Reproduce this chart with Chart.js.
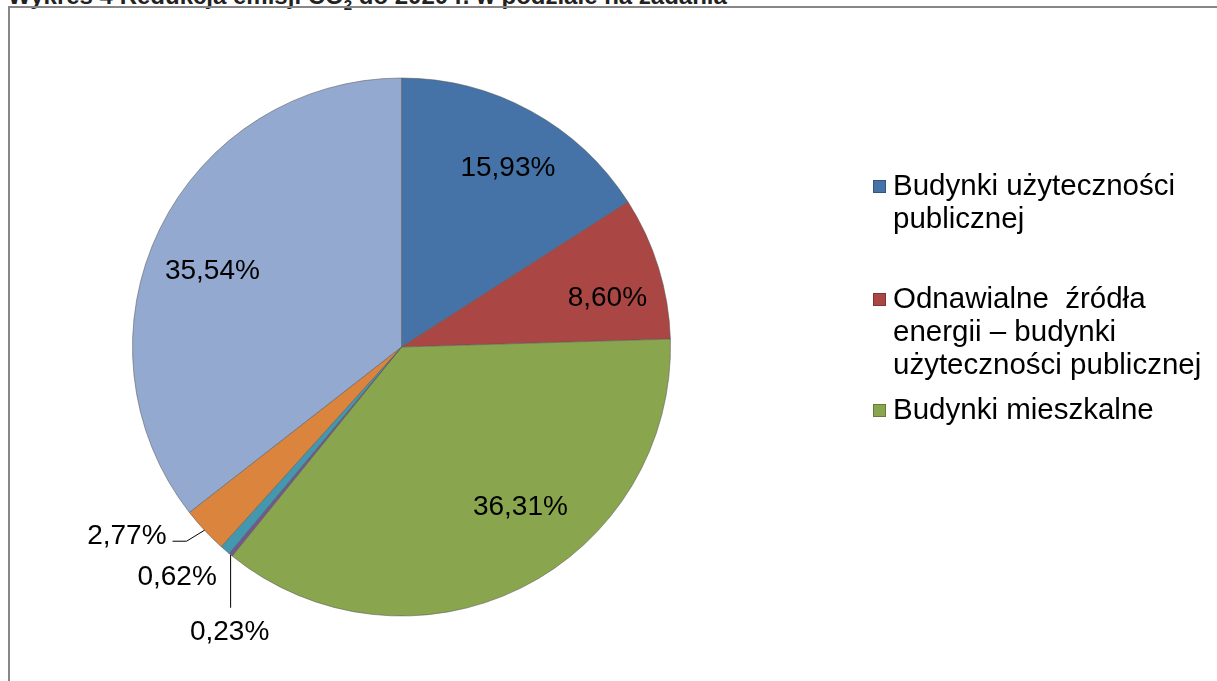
<!DOCTYPE html>
<html>
<head>
<meta charset="utf-8">
<script src="https://cdn.jsdelivr.net/npm/chart.js@4.4.0/dist/chart.umd.min.js"></script>
<style>
    html, body { margin: 0; padding: 0; background: #fff; overflow: hidden; }
    #wrap { position: relative; width: 1217px; height: 681px; }
    #title {
        position: absolute; left: 8px; top: -18px;
        font: bold 24px "Liberation Sans", Arial, sans-serif; color: #222;
        white-space: nowrap;
    }
    #frame {
        position: absolute; left: 8px; top: 6px; width: 1400px; height: 900px;
        border: 2px solid #878787; box-sizing: border-box;
    }
    #chart { position: absolute; left: 0; top: 0; }
</style>
</head>
<body>
<div id="wrap">
    <div id="title">Wykres 4 Redukcja emisji CO<sub style="font-size:15px">2</sub> do 2020 r. w podziale na zadania</div>
    <div id="frame"></div>
    <canvas id="chart" width="1217" height="681"></canvas>
</div>
<script>
// slices, clockwise from 12 o'clock
const categories = [
    ["Budynki użyteczności", "publicznej"],
    ["Odnawialne  źródła", "energii – budynki", "użyteczności publicznej"],
    ["Budynki mieszkalne"],
    ["Oświetlenie uliczne"],
    ["Transport publiczny"],
    ["Odnawialne źródła energii – budynki mieszkalne"],
    ["Transport prywatny"]
];
const shares = [15.93, 8.60, 36.31, 0.23, 0.62, 2.77, 35.54];
const colors = ["#4572A7", "#AA4643", "#89A54E", "#71588F", "#4198AF", "#DB843D", "#93A9CF"];
const legendShown = 3;

function fmt(v) {
    return v.toFixed(2).replace(".", ",") + "%";
}

const FONT = '"Liberation Sans", Arial, sans-serif';

// labels: big slices inside, small ones outside with leader lines
const sliceLabels = {
    id: "sliceLabels",
    afterDatasetsDraw(chart) {
        const ctx = chart.ctx;
        const meta = chart.getDatasetMeta(0);
        // nudges for the inside labels (Excel "best fit" isn't exactly on the bisector)
        const inside = { 0: [7, 3], 1: [8, 12], 2: [27, -25], 6: [-3, 15] };
        // offsets for the small slices, relative to the point on the rim
        const outside = {
            3: { dx: -1, dy: 78, line: [[0, 0], [0, 53]], align: "center" },
            4: { dx: -48, dy: 27, line: null, align: "center" },
            5: { dx: -38, dy: 6, line: [[0, 0], [-18, 11], [-32, 11]], align: "right" }
        };
        ctx.save();
        ctx.font = "28px " + FONT;
        ctx.fillStyle = "#000";
        ctx.textBaseline = "middle";
        meta.data.forEach((arc, i) => {
            const p = arc.getProps(["x", "y", "startAngle", "endAngle", "outerRadius"]);
            const mid = (p.startAngle + p.endAngle) / 2;
            const v = shares[i];
            if (!outside[i]) {
                const r = p.outerRadius * 0.77;
                const n = inside[i] || [0, 0];
                ctx.textAlign = "center";
                ctx.fillText(fmt(v), p.x + Math.cos(mid) * r + n[0], p.y + Math.sin(mid) * r + n[1]);
            } else {
                const o = outside[i];
                const ax = p.x + Math.cos(mid) * p.outerRadius;
                const ay = p.y + Math.sin(mid) * p.outerRadius;
                if (o.line) {
                    ctx.beginPath();
                    ctx.strokeStyle = "#000";
                    ctx.lineWidth = 1;
                    o.line.forEach((pt, k) => {
                        if (k === 0) ctx.moveTo(ax + pt[0], ay + pt[1]);
                        else ctx.lineTo(ax + pt[0], ay + pt[1]);
                    });
                    ctx.stroke();
                }
                ctx.textAlign = o.align;
                ctx.fillText(fmt(v), ax + o.dx, ay + o.dy);
            }
        });
        ctx.restore();
    }
};

// legend on the right, only the first entries fit in the frame
const sideLegend = {
    id: "sideLegend",
    afterDraw(chart) {
        const ctx = chart.ctx;
        const entryY = [187, 300, 411];
        const lineH = 33;
        ctx.save();
        ctx.font = "29.5px " + FONT;
        ctx.textBaseline = "middle";
        ctx.textAlign = "left";
        for (let i = 0; i < legendShown; i++) {
            const y = entryY[i];
            ctx.fillStyle = colors[i];
            ctx.fillRect(873, y - 7, 13, 13);
            ctx.strokeStyle = "rgba(0,0,0,0.25)";
            ctx.lineWidth = 1;
            ctx.strokeRect(873.5, y - 6.5, 12, 12);
            ctx.fillStyle = "#000";
            categories[i].forEach((line, k) => {
                ctx.fillText(line, 893, y + k * lineH);
            });
        }
        ctx.restore();
    }
};

new Chart(document.getElementById("chart"), {
    type: "pie",
    data: {
        labels: categories.map(c => c.join(" ")),
        datasets: [{
            data: shares,
            backgroundColor: colors,
            borderColor: "rgba(90,90,90,0.55)",
            borderWidth: 1
        }]
    },
    options: {
        responsive: false,
        animation: false,
        layout: { padding: { left: 132, right: 546, top: 77, bottom: 64 } },
        plugins: {
            legend: { display: false },
            tooltip: { enabled: false }
        }
    },
    plugins: [sliceLabels, sideLegend]
});
</script>
</body>
</html>
